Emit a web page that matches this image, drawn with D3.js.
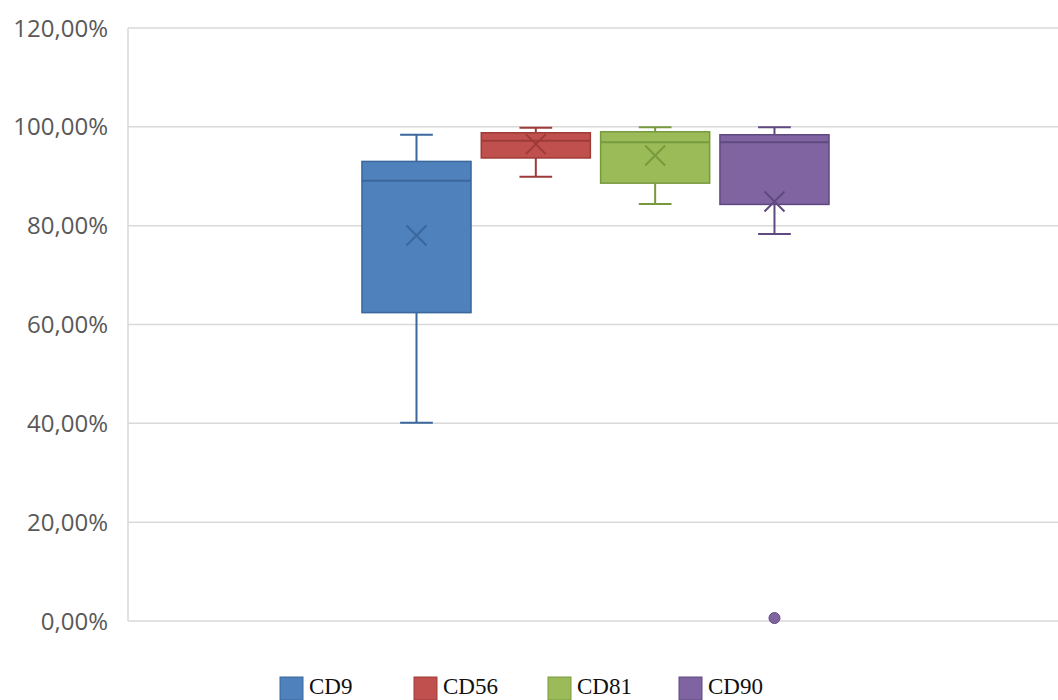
<!DOCTYPE html>
<html>
<head>
<meta charset="utf-8">
<script src="https://cdn.jsdelivr.net/npm/d3@7"></script>
<style>
  body { margin: 0; background: #fff; }
  svg { display: block; }
</style>
</head>
<body>
<div id="chart"></div>
<script>
// series and their box plot stats (percent)
let series = ["CD9", "CD56", "CD81", "CD90"];
let whiskerLow = [40.1, 89.9, 84.4, 78.3];
let q1 = [62.4, 93.7, 88.6, 84.3];
let median = [89.1, 97.2, 96.9, 96.9];
let q3 = [93.0, 98.8, 99.0, 98.4];
let whiskerHigh = [98.4, 99.8, 99.9, 99.9];
let means = [78.0, 96.5, 94.2, 84.9];
let outliers = [[], [], [], [0.6]];
let yTicks = [0, 20, 40, 60, 80, 100, 120];

let fills = ["#4F81BD", "#C0504D", "#9BBB59", "#8064A2"];
let strokes = ["#3A679C", "#9E3B38", "#789A3F", "#5F4A80"];

let width = 1058, height = 700;
let margin = {left: 128, right: 0, top: 28, bottom: 79};

let svg = d3.select("#chart")
    .append("svg")
        .attr("width", width)
        .attr("height", height);

let y = d3.scaleLinear()
    .domain([0, 120])
    .range([height - margin.bottom, margin.top]);

// one category, four series inside it
let x0 = d3.scaleBand()
    .domain(["all"])
    .range([margin.left, width - margin.right])
    .paddingOuter(0.4708)
    .align(0.5055);

let x1 = d3.scaleBand()
    .domain(series)
    .range([x0("all"), x0("all") + x0.bandwidth()])
    .paddingInner(0.086)
    .paddingOuter(0.05);

//gridlines
svg.append("g")
    .selectAll("line")
    .data(yTicks)
    .enter()
    .append("line")
        .attr("x1", margin.left)
        .attr("x2", width - margin.right)
        .attr("y1", d => y(d))
        .attr("y2", d => y(d))
        .attr("stroke", "#d9d9d9")
        .attr("stroke-width", 1.5);

// left axis line
svg.append("line")
    .attr("x1", margin.left).attr("x2", margin.left)
    .attr("y1", y(120)).attr("y2", y(0))
    .attr("stroke", "#d9d9d9")
    .attr("stroke-width", 1.5);

//tick labels
svg.append("g")
    .selectAll("text")
    .data(yTicks)
    .enter()
    .append("text")
        .attr("x", 108)
        .attr("y", d => y(d))
        .attr("dy", "0.36em")
        .attr("text-anchor", "end")
        .style("font-family", "'Open Sans', sans-serif")
        .style("font-size", "24px")
        .style("fill", "#595959")
        .text(d => d.toFixed(2).replace(".", ",") + "%");

// boxes
series.forEach(function(s, i) {
    let g = svg.append("g");
    let bx = x1(s), bw = x1.bandwidth(), cx = bx + bw / 2;
    let capW = bw * 0.3;

    // whiskers
    g.append("line")
        .attr("x1", cx).attr("x2", cx)
        .attr("y1", y(whiskerHigh[i])).attr("y2", y(q3[i]))
        .attr("stroke", strokes[i]).attr("stroke-width", 2);
    g.append("line")
        .attr("x1", cx).attr("x2", cx)
        .attr("y1", y(q1[i])).attr("y2", y(whiskerLow[i]))
        .attr("stroke", strokes[i]).attr("stroke-width", 2);
    [whiskerHigh[i], whiskerLow[i]].forEach(function(v) {
        g.append("line")
            .attr("x1", cx - capW / 2).attr("x2", cx + capW / 2)
            .attr("y1", y(v)).attr("y2", y(v))
            .attr("stroke", strokes[i]).attr("stroke-width", 2);
    });

    g.append("rect")
        .attr("x", bx)
        .attr("y", y(q3[i]))
        .attr("width", bw)
        .attr("height", y(q1[i]) - y(q3[i]))
        .attr("fill", fills[i])
        .attr("stroke", strokes[i])
        .attr("stroke-width", 1.5);

    g.append("line")
        .attr("x1", bx).attr("x2", bx + bw)
        .attr("y1", y(median[i])).attr("y2", y(median[i]))
        .attr("stroke", strokes[i]).attr("stroke-width", 2);

    // mean marker
    let m = 10, my = y(means[i]);
    g.append("path")
        .attr("d", `M${cx - m},${my - m}L${cx + m},${my + m}M${cx - m},${my + m}L${cx + m},${my - m}`)
        .attr("stroke", strokes[i]).attr("stroke-width", 2).attr("fill", "none");

    g.selectAll("circle")
        .data(outliers[i])
        .enter()
        .append("circle")
            .attr("cx", cx)
            .attr("cy", d => y(d))
            .attr("r", 5.5)
            .attr("fill", fills[i])
            .attr("stroke", strokes[i])
            .attr("stroke-width", 1);
});

//legend
let legendX = [280, 414, 548, 679];
let legend = svg.append("g");
series.forEach(function(s, i) {
    legend.append("rect")
        .attr("x", legendX[i])
        .attr("y", 677)
        .attr("width", 23)
        .attr("height", 23)
        .attr("fill", fills[i])
        .attr("stroke", strokes[i])
        .attr("stroke-width", 1);
    legend.append("text")
        .attr("x", legendX[i] + 29)
        .attr("y", 694)
        .style("font-family", "'Liberation Serif', 'Times New Roman', serif")
        .style("font-size", "23px")
        .style("fill", "#111")
        .text(s);
});
</script>
</body>
</html>
